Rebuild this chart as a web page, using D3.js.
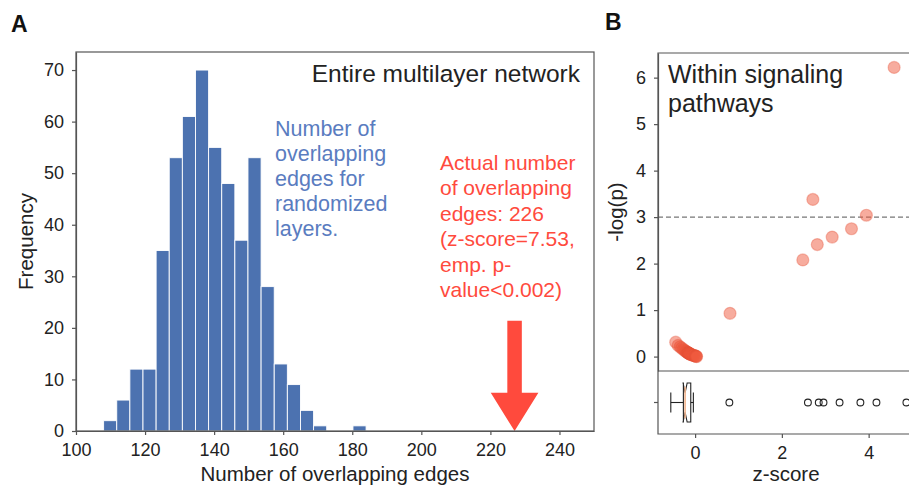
<!DOCTYPE html>
<html>
<head>
<meta charset="utf-8">
<script src="https://cdn.jsdelivr.net/npm/d3@7"></script>
<style>
  body { margin: 0; background: #fff; }
  svg { display: block; font-family: "Liberation Sans", Arial, sans-serif; }
  .tick text { font-size: 18px; fill: #222; }
  .tick line, .domain { stroke: #555; stroke-width: 1.2; }
</style>
</head>
<body>
<div id="chart"></div>
<script>
// ---- panel A: histogram of overlapping edges (500 randomizations)
const binStart = 108;
const binWidth = 3.8;
const binCounts = [2, 6, 12, 12, 35, 53, 61, 70, 55, 48, 37, 53, 28, 13, 9, 4, 1, 0, 0, 1];
const xTicksA = [100, 120, 140, 160, 180, 200, 220, 240];
const yTicksA = [0, 10, 20, 30, 40, 50, 60, 70];
const actualValue = 227;   // arrow position (actual = 226)
const arrowTop = 21.4;

// ---- panel B: z-score vs -log(p) for signaling pathways
const clusterZ = [-0.56, -0.50, -0.45, -0.41, -0.37, -0.34, -0.31, -0.29, -0.27, -0.26, -0.25,
  -0.24, -0.23, -0.23, -0.22, -0.21, -0.20, -0.18, -0.16, -0.14, -0.12, -0.10, -0.08, -0.06, -0.05, -0.04];
const clusterP = [0.31, 0.24, 0.21, 0.18, 0.155, 0.135, 0.115, 0.10, 0.09, 0.085, 0.08,
  0.075, 0.07, 0.07, 0.065, 0.06, 0.055, 0.045, 0.04, 0.03, 0.025, 0.02, 0.015, 0.01, 0.005, 0.0];
const outlierZ = [0.79, 2.60, 2.85, 2.96, 3.33, 3.81, 4.18, 4.87];
const outlierP = [0.93, 2.08, 3.38, 2.41, 2.57, 2.75, 3.04, 6.22];
const boxStats = { lo: -0.56, q1: -0.27, med: -0.23, q3: -0.10, hi: -0.04, nlo: -0.277, nhi: -0.183 };
const yTicksB = [0, 1, 2, 3, 4, 5, 6];
const xTicksB = [0, 2, 4];
const threshold = 3;

const W = 909, H = 487;
const svg = d3.select("#chart").append("svg").attr("width", W).attr("height", H);
svg.append("rect").attr("width", W).attr("height", H).attr("fill", "#fff");

const blue = "#4c72b0", red = "#ff4a3d", spine = "#555";
const fmt = d3.format("d");

// ================= panel A =================
var a = { left: 76, right: 594, top: 52, bottom: 431 };
var x = d3.scaleLinear().domain([100, 250]).range([a.left, a.right]);
var y = d3.scaleLinear().domain([0, 73.5]).range([a.bottom, a.top]);

svg.append("g").selectAll("rect")
  .data(binCounts)
  .join("rect")
  .attr("x", (d, i) => x(binStart + i * binWidth))
  .attr("width", x(binStart + binWidth) - x(binStart))
  .attr("y", d => y(d))
  .attr("height", d => y(0) - y(d))
  .attr("fill", blue)
  .attr("stroke", "#fff")
  .attr("stroke-width", 0.9)
  .style("display", d => d > 0 ? null : "none");

// arrow for the actual number
var ax = actualValue;
var arrowPts = [
  [ax - 2.1, arrowTop], [ax + 2.1, arrowTop], [ax + 2.1, 7.4], [ax + 6.9, 7.4],
  [ax, 0], [ax - 6.9, 7.4], [ax - 2.1, 7.4]
];
svg.append("path")
  .attr("d", d3.line().x(d => x(d[0])).y(d => y(d[1]))(arrowPts) + "Z")
  .attr("fill", red);

// frame + axes
svg.append("rect")
  .attr("x", a.left).attr("y", a.top)
  .attr("width", a.right - a.left).attr("height", a.bottom - a.top)
  .attr("fill", "none").attr("stroke", spine).attr("stroke-width", 1.2);

svg.append("g")
  .attr("transform", "translate(0," + a.bottom + ")")
  .call(d3.axisBottom(x).tickValues(xTicksA).tickSize(4).tickSizeOuter(0).tickPadding(8));
svg.append("g")
  .attr("transform", "translate(" + a.left + ",0)")
  .call(d3.axisLeft(y).tickValues(yTicksA).tickSize(4).tickSizeOuter(0).tickPadding(8));

svg.append("text")
  .attr("x", (a.left + a.right) / 2).attr("y", 481)
  .attr("text-anchor", "middle").style("font-size", "20.5px").attr("fill", "#222")
  .text("Number of overlapping edges");
svg.append("text")
  .attr("transform", "translate(33," + ((a.top + a.bottom) / 2) + ") rotate(-90)")
  .attr("text-anchor", "middle").style("font-size", "20.5px").attr("fill", "#222")
  .text("Frequency");

svg.append("text")
  .attr("x", 580).attr("y", 82)
  .attr("text-anchor", "end").style("font-size", "24.5px").attr("fill", "#222")
  .text("Entire multilayer network");

var blueLines = ["Number of", "overlapping", "edges for", "randomized", "layers."];
svg.append("g").selectAll("text").data(blueLines).join("text")
  .attr("x", 275).attr("y", (d, i) => 136 + i * 25)
  .style("font-size", "21.5px").attr("fill", "#5a7cc0")
  .text(d => d);

var redLines = ["Actual number", "of overlapping", "edges: 226", "(z-score=7.53,", "emp. p-", "value<0.002)"];
svg.append("g").selectAll("text").data(redLines).join("text")
  .attr("x", 440).attr("y", (d, i) => 170 + i * 25.4)
  .style("font-size", "21px").attr("fill", red)
  .text(d => d);

svg.append("text").attr("x", 11).attr("y", 32)
  .style("font-size", "23px").style("font-weight", "bold").attr("fill", "#111").text("A");
svg.append("text").attr("x", 605).attr("y", 30)
  .style("font-size", "23px").style("font-weight", "bold").attr("fill", "#111").text("B");

// ================= panel B (top: scatter) =================
var b = { left: 658, top: 53, mid: 371, bottom: 434 };
var xt = d3.scaleLinear().domain([-1.0, 5.24]).range([b.left, 909]);
var yt = d3.scaleLinear().domain([-0.31, 6.53]).range([b.mid, b.top]);
var xb = d3.scaleLinear().domain([-0.855, 4.93]).range([b.left, 909]);

var pts = clusterZ.map((z, i) => ({ z: z, p: clusterP[i] }))
  .concat(outlierZ.map((z, i) => ({ z: z, p: outlierP[i] })));

svg.append("line")
  .attr("x1", b.left).attr("x2", W)
  .attr("y1", yt(threshold)).attr("y2", yt(threshold))
  .attr("stroke", "#777").attr("stroke-width", 1.2).attr("stroke-dasharray", "5,3");

svg.append("g").selectAll("circle").data(pts).join("circle")
  .attr("cx", d => xt(d.z)).attr("cy", d => yt(d.p)).attr("r", 6)
  .attr("fill", "rgba(240,90,62,0.5)")
  .attr("stroke", "rgba(230,80,55,0.35)").attr("stroke-width", 1.2);

svg.append("g")
  .attr("transform", "translate(" + b.left + ",0)")
  .call(d3.axisLeft(yt).tickValues(yTicksB).tickFormat(fmt).tickSize(4).tickSizeOuter(0).tickPadding(8));

svg.append("path")
  .attr("d", "M" + W + "," + b.top + "H" + b.left + "V" + b.bottom + "H" + W + "M" + b.left + "," + b.mid + "H" + W)
  .attr("fill", "none").attr("stroke", spine).attr("stroke-width", 1.2);

svg.append("text")
  .attr("transform", "translate(623," + ((b.top + b.mid) / 2) + ") rotate(-90)")
  .attr("text-anchor", "middle").style("font-size", "20.5px").attr("fill", "#222")
  .text("-log(p)");

svg.append("g").selectAll("text").data(["Within signaling", "pathways"]).join("text")
  .attr("x", 668).attr("y", (d, i) => 83 + i * 29)
  .style("font-size", "25px").attr("fill", "#222")
  .text(d => d);

// ================= panel B (bottom: notched box plot) =================
var cy = 402.5, hh = 19.5, cap = 10;
var bs = boxStats;
var notchPath = [
  [bs.q1, cy - hh], [bs.nlo, cy - hh], [bs.med, cy - hh / 2], [bs.nhi, cy - hh], [bs.q3, cy - hh],
  [bs.q3, cy + hh], [bs.nhi, cy + hh], [bs.med, cy + hh / 2], [bs.nlo, cy + hh], [bs.q1, cy + hh]
];
var gb = svg.append("g").attr("fill", "none").attr("stroke", "#222").attr("stroke-width", 1.1);
gb.append("line").attr("x1", xb(bs.lo)).attr("x2", xb(bs.q1)).attr("y1", cy).attr("y2", cy);
gb.append("line").attr("x1", xb(bs.q3)).attr("x2", xb(bs.hi)).attr("y1", cy).attr("y2", cy);
gb.append("line").attr("x1", xb(bs.lo)).attr("x2", xb(bs.lo)).attr("y1", cy - cap).attr("y2", cy + cap);
gb.append("line").attr("x1", xb(bs.hi)).attr("x2", xb(bs.hi)).attr("y1", cy - cap).attr("y2", cy + cap);
gb.append("path").attr("d", d3.line().x(d => xb(d[0])).y(d => d[1])(notchPath) + "Z");
svg.append("line").attr("x1", xb(bs.med)).attr("x2", xb(bs.med))
  .attr("y1", cy - hh / 2 - 6).attr("y2", cy + hh / 2 + 6)
  .attr("stroke", "#f2b58f").attr("stroke-width", 1.6);

svg.append("g").selectAll("circle").data(outlierZ).join("circle")
  .attr("cx", d => xb(d)).attr("cy", cy).attr("r", 3.4)
  .attr("fill", "none").attr("stroke", "#222").attr("stroke-width", 1.1);

svg.append("g")
  .attr("transform", "translate(0," + b.bottom + ")")
  .call(d3.axisBottom(xb).tickValues(xTicksB).tickFormat(fmt).tickSize(4).tickSizeOuter(0).tickPadding(8))
  .call(g => g.select(".domain").remove());
svg.append("line").attr("x1", b.left - 4).attr("x2", b.left).attr("y1", cy).attr("y2", cy)
  .attr("stroke", spine).attr("stroke-width", 1.2);

svg.append("text")
  .attr("x", 786).attr("y", 481)
  .attr("text-anchor", "middle").style("font-size", "20.5px").attr("fill", "#222")
  .text("z-score");
</script>
</body>
</html>
